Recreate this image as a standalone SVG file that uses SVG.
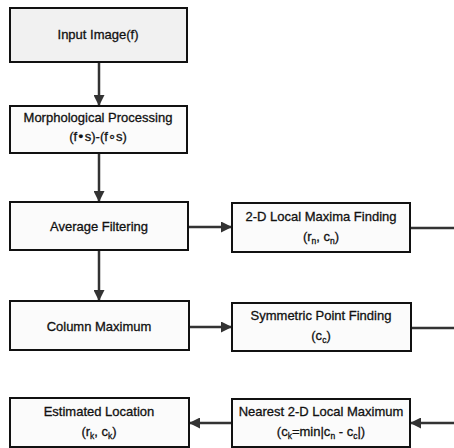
<svg xmlns="http://www.w3.org/2000/svg" width="454" height="448" viewBox="0 0 454 448">
<style>
.box{fill:#fbfbfb;stroke:#111;stroke-width:2}
.box1{fill:#f1f1f1;stroke:#111;stroke-width:2}
.t{font-family:"Liberation Sans",Arial,sans-serif;font-size:13px;fill:#111;stroke:#111;stroke-width:0.3;text-anchor:middle}
.sub{font-size:8.5px}
.sym{font-family:"DejaVu Sans",sans-serif}
.c{stroke:#333;stroke-width:2.5;fill:none}
</style>
<defs>
<marker id="ah" markerWidth="11" markerHeight="11" refX="10" refY="5.5" orient="auto" markerUnits="userSpaceOnUse">
<path d="M0,0 L11,5.5 L0,11 Z" fill="#333"/>
</marker>
</defs>
<g id="connectors">
<line class="c" x1="99" y1="62" x2="99" y2="105" marker-end="url(#ah)"/>
<line class="c" x1="99" y1="153" x2="99" y2="201" marker-end="url(#ah)"/>
<line class="c" x1="99" y1="250" x2="99" y2="300" marker-end="url(#ah)"/>
<line class="c" x1="188" y1="227" x2="231" y2="227" marker-end="url(#ah)"/>
<line class="c" x1="410" y1="228" x2="454" y2="228"/>
<line class="c" x1="189" y1="327" x2="231" y2="327" marker-end="url(#ah)"/>
<line class="c" x1="411" y1="328" x2="454" y2="328"/>
<line class="c" x1="454" y1="423" x2="411" y2="423" marker-end="url(#ah)"/>
<line class="c" x1="232" y1="423" x2="190" y2="423" marker-end="url(#ah)"/>
</g>
<g id="input">
<rect class="box1" x="10" y="8" width="177" height="54"/>
<text class="t" x="98" y="39">Input Image(f)</text>
</g>
<g id="morph">
<rect class="box" x="10" y="106" width="177" height="47"/>
<text class="t" x="98" y="122">Morphological Processing</text>
<text class="t" x="98" y="141">(f<tspan class="sym">•</tspan>s)-(f<tspan class="sym">∘</tspan>s)</text>
</g>
<g id="average">
<rect class="box" x="10" y="202" width="178" height="48"/>
<text class="t" x="99" y="231">Average Filtering</text>
</g>
<g id="localmax">
<rect class="box" x="232" y="203" width="178" height="49"/>
<text class="t" x="321" y="221">2-D Local Maxima Finding</text>
<text class="t" x="321" y="241">(r<tspan class="sub" dy="3">n</tspan><tspan dy="-3">, c</tspan><tspan class="sub" dy="3">n</tspan><tspan dy="-3">)</tspan></text>
</g>
<g id="colmax">
<rect class="box" x="10" y="301" width="179" height="49"/>
<text class="t" x="99" y="331">Column Maximum</text>
</g>
<g id="symmetric">
<rect class="box" x="232" y="303" width="179" height="48"/>
<text class="t" x="321" y="320">Symmetric Point Finding</text>
<text class="t" x="321" y="340">(c<tspan class="sub" dy="3">c</tspan><tspan dy="-3">)</tspan></text>
</g>
<g id="estimated">
<rect class="box" x="10" y="398" width="179" height="49"/>
<text class="t" x="99" y="416">Estimated Location</text>
<text class="t" x="99" y="436">(r<tspan class="sub" dy="3">k</tspan><tspan dy="-3">, c</tspan><tspan class="sub" dy="3">k</tspan><tspan dy="-3">)</tspan></text>
</g>
<g id="nearest">
<rect class="box" x="232" y="399" width="178" height="48"/>
<text class="t" x="321" y="416">Nearest 2-D Local Maximum</text>
<text class="t" x="321" y="436">(c<tspan class="sub" dy="3">k</tspan><tspan dy="-3">=min|c</tspan><tspan class="sub" dy="3">n</tspan><tspan dy="-3"> - c</tspan><tspan class="sub" dy="3">c</tspan><tspan dy="-3">|)</tspan></text>
</g>
</svg>
